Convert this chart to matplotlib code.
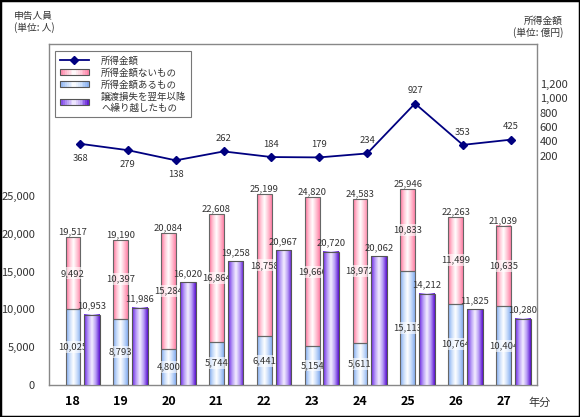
import numpy as np
import matplotlib
matplotlib.use("Agg")
import matplotlib.pyplot as plt
from matplotlib.colors import LinearSegmentedColormap
from matplotlib.patches import Rectangle, Patch
from matplotlib.lines import Line2D
from matplotlib.legend_handler import HandlerBase

plt.rcParams['font.family'] = ['Noto Sans CJK JP', 'DejaVu Sans']

# データ
years = ['18', '19', '20', '21', '22', '23', '24', '25', '26', '27']
aru = [10025, 8793, 4800, 5744, 6441, 5154, 5611, 15113, 10764, 10404]      # 所得金額あるもの
nai = [9492, 10397, 15284, 16864, 18758, 19666, 18972, 10833, 11499, 10635]  # 所得金額ないもの
kurikoshi = [10953, 11986, 16020, 19258, 20967, 20720, 20062, 14212, 11825, 10280]
kingaku = [368, 279, 138, 262, 184, 179, 234, 927, 353, 425]  # 億円
right_ticks = [200, 400, 600, 800, 1000, 1200]

pink = LinearSegmentedColormap.from_list('p', ['#ff6f98', '#ffc4d4', '#ffffff', '#ffc4d4', '#ff80a6'])
blue = LinearSegmentedColormap.from_list('b', ['#7ea8ee', '#c8dcfa', '#ffffff', '#c8dcfa', '#86aef0'])
purple = LinearSegmentedColormap.from_list('v', ['#6a22e6', '#b69af5', '#f4efff', '#b69af5', '#5a10d0'])
grad = np.linspace(0, 1, 64).reshape(1, -1)


def fill_gradient(ax, bars, cmap):
    for b in bars:
        x, y, w, h = b.get_x(), b.get_y(), b.get_width(), b.get_height()
        ax.imshow(grad, extent=[x, x + w, y, y + h], aspect='auto', cmap=cmap,
                  zorder=2, interpolation='bilinear')


class GradHandler(HandlerBase):
    def __init__(self, cmap):
        super().__init__()
        self.cmap = cmap

    def create_artists(self, legend, orig_handle, xdescent, ydescent,
                       width, height, fontsize, trans):
        arts = []
        n = 16
        h = height * 0.9
        y0 = -ydescent + (height - h) / 2
        for k in range(n):
            arts.append(Rectangle((-xdescent + width * k / n, y0), width / n + 0.1, h,
                                  fc=self.cmap((k + 0.5) / n), ec='none', transform=trans))
        arts.append(Rectangle((-xdescent, y0), width, h, fill=False,
                              ec='#555555', lw=0.8, transform=trans))
        return arts


fig = plt.figure(figsize=(5.8, 4.17), dpi=100)
ax = fig.add_axes([49 / 580, 32 / 417, 488 / 580, 341.5 / 417])
x = np.arange(len(years))
w = 0.31
tc = '#333333'

b1 = ax.bar(x, aru, w, fc='none', ec='#666666', lw=0.8, zorder=3)
b2 = ax.bar(x, nai, w, bottom=aru, fc='none', ec='#666666', lw=0.8, zorder=3)
fill_gradient(ax, b1, blue)
fill_gradient(ax, b2, pink)

lbl_box = dict(boxstyle='square,pad=0.15', fc='white', ec='none', alpha=0.6)
for i in range(len(years)):
    ax.text(x[i], aru[i] / 2, f'{aru[i]:,}', ha='center', va='center', fontsize=6.8,
            color=tc, bbox=lbl_box, zorder=5)
    ax.text(x[i], aru[i] + nai[i] / 2, f'{nai[i]:,}', ha='center', va='center', fontsize=6.8,
            color=tc, bbox=lbl_box, zorder=5)
    ax.annotate(f'{aru[i] + nai[i]:,}', (x[i], aru[i] + nai[i]), xytext=(0, 0.5),
                textcoords='offset points', ha='center', va='bottom', fontsize=6.8, color=tc)

ax.set_xlim(-0.5, 9.7)
ax.set_ylim(0, 45170)
ax.set_yticks([0, 5000, 10000, 15000, 20000, 25000])
ax.set_yticklabels([f'{v:,}' for v in [0, 5000, 10000, 15000, 20000, 25000]])
ax.set_xticks(x)
ax.set_xticklabels(years, fontweight='bold', fontsize=9)
ax.tick_params(axis='y', length=0, pad=10, labelsize=8, labelcolor=tc)
ax.tick_params(axis='x', length=0, pad=7, labelcolor='black')
for s in ax.spines.values():
    s.set_color('#888888')
    s.set_linewidth(1)

# 譲渡損失を翌年以降へ繰り越したもの (別スケール)
ax2 = ax.twinx()
b3 = ax2.bar(x + 0.4, kurikoshi, 0.33, fc='none', ec='#555555', lw=0.8, zorder=3)
fill_gradient(ax2, b3, purple)
for i in range(len(years)):
    ax2.annotate(f'{kurikoshi[i]:,}', (x[i] + 0.4, kurikoshi[i]), xytext=(0, 3),
                 textcoords='offset points', ha='center', va='bottom', fontsize=6.8, color=tc)
ax2.set_ylim(0, 45170 / 0.85)
ax2.set_xlim(-0.5, 9.7)
ax2.set_yticks([])
for s in ax2.spines.values():
    s.set_visible(False)

# 所得金額
ax3 = ax.twinx()
ax3.plot(x + 0.15, kingaku, color='#000080', lw=1.3, marker='D', ms=4.5, zorder=4)
for i in range(len(years)):
    dy = -7 if i < 3 else 6
    ax3.annotate(f'{kingaku[i]:,}', (x[i] + 0.15, kingaku[i]), xytext=(0, dy),
                 textcoords='offset points', ha='center', va='top' if i < 3 else 'bottom',
                 fontsize=6.8, color=tc)
ax3.set_xlim(-0.5, 9.7)
ax3.set_ylim(-2980, 1760)
ax3.set_yticks(right_ticks)
ax3.set_yticklabels([f'{v:,}' for v in right_ticks])
ax3.tick_params(axis='y', length=0, pad=2, labelsize=8, labelcolor=tc)
for s in ax3.spines.values():
    s.set_visible(False)

h_line = Line2D([], [], color='#000080', lw=1.3, marker='D', ms=4.5)
h_nai = Patch(label='nai')
h_aru = Patch(label='aru')
h_kuri = Patch(label='kuri')
leg = ax3.legend([h_line, h_nai, h_aru, h_kuri],
                 ['所得金額', '所得金額ないもの', '所得金額あるもの', '譲渡損失を翌年以降\nへ繰り越したもの'],
                 handler_map={h_nai: GradHandler(pink), h_aru: GradHandler(blue),
                              h_kuri: GradHandler(purple)},
                 loc='upper left', bbox_to_anchor=(0.012, 0.977), borderaxespad=0,
                 fontsize=6.8, handlelength=3.1, handletextpad=1.3, labelspacing=0.25,
                 borderpad=0.5, fancybox=False, framealpha=1, edgecolor='#777777')
leg.get_frame().set_linewidth(0.8)
for t in leg.get_texts():
    t.set_color(tc)

fig.text(14 / 580, 1 - 22 / 417, '申告人員\n(単位: 人)', fontsize=7, color=tc,
         ha='left', va='center', linespacing=1.1)
fig.text(563 / 580, 1 - 27 / 417, '所得金額\n(単位: 億円)', fontsize=7, color=tc,
         ha='right', va='center', linespacing=1.1)
fig.text(540 / 580, 1 - 403 / 417, '年分', fontsize=8, color=tc, ha='center', va='center')

fig.patches.append(Rectangle((0, 0), 1, 1, transform=fig.transFigure, fill=False,
                             ec='black', lw=2.5))

fig.savefig('out.png', dpi=100)
